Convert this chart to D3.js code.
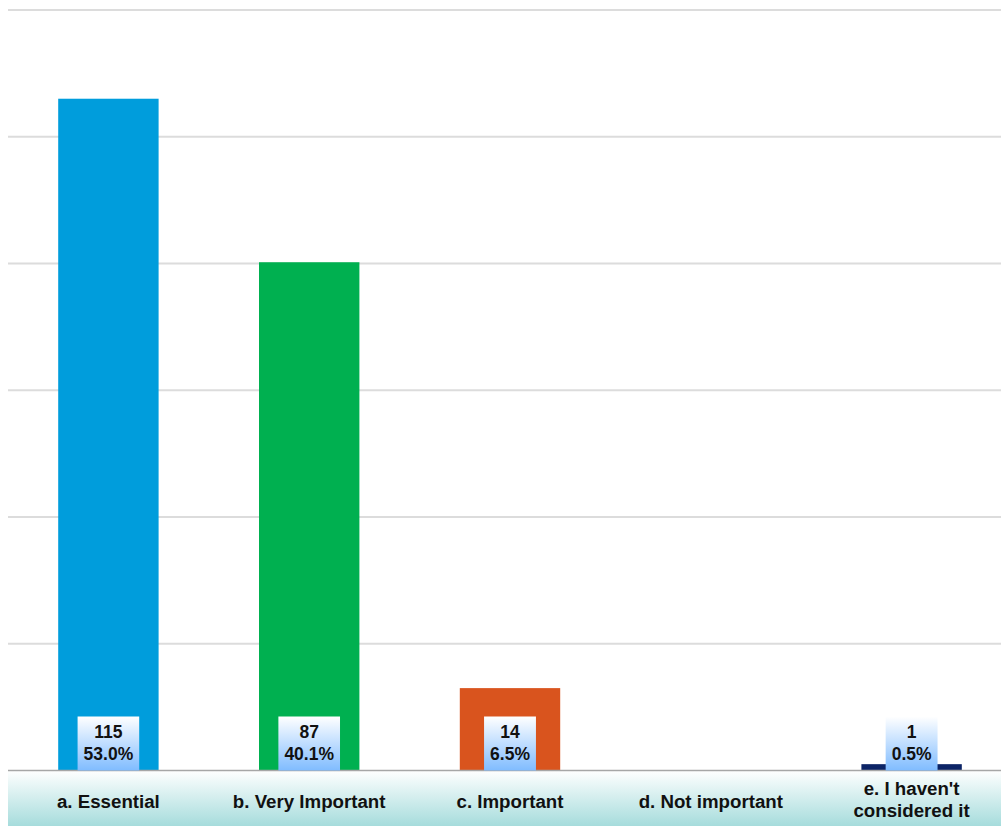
<!DOCTYPE html>
<html>
<head>
<meta charset="utf-8">
<script src="https://cdn.jsdelivr.net/npm/d3@7"></script>
<style>
  body { margin: 0; background: #fff; }
  svg { display: block; font-family: "Liberation Sans", Arial, sans-serif; }
</style>
</head>
<body>
<svg id="chart" width="1001" height="826"></svg>
<script>
// data
const categories = ["a. Essential", "b. Very Important", "c. Important", "d. Not important", "e. I haven't considered it"];
const categoryLines = [["a. Essential"], ["b. Very Important"], ["c. Important"], ["d. Not important"], ["e. I haven't", "considered it"]];
const counts = [115, 87, 14, 0, 1];
const percents = [53.0, 40.1, 6.5, 0, 0.5];
const barColors = ["#009ddc", "#00b050", "#d9541e", "#7f7f7f", "#0c2466"];
const gridTicks = [0, 10, 20, 30, 40, 50, 60];

const svg = d3.select("#chart");
const width = 1001, height = 826;
const left = 8, baseY = 770.5, topY = 10;

const data = categories.map((c, i) => ({
  cat: c, lines: categoryLines[i], count: counts[i], pct: percents[i], color: barColors[i]
}));

const x = d3.scaleBand()
  .domain(categories)
  .range([left, 1012])
  .paddingInner(0.5)
  .paddingOuter(0.25);

const y = d3.scaleLinear().domain([0, 60]).range([baseY, topY]);

const defs = svg.append("defs");
const bandGrad = defs.append("linearGradient")
  .attr("id", "bandGrad").attr("x1", 0).attr("y1", 0).attr("x2", 0).attr("y2", 1);
bandGrad.append("stop").attr("offset", "0%").attr("stop-color", "#ffffff");
bandGrad.append("stop").attr("offset", "100%").attr("stop-color", "#a6dcdc");

const boxGrad = defs.append("linearGradient")
  .attr("id", "boxGrad").attr("x1", 0).attr("y1", 0).attr("x2", 0).attr("y2", 1);
boxGrad.append("stop").attr("offset", "0%").attr("stop-color", "#ffffff");
boxGrad.append("stop").attr("offset", "100%").attr("stop-color", "#80bcff");

// gridlines
svg.append("g").attr("class", "grid")
  .selectAll("line")
  .data(gridTicks.filter(t => t > 0))
  .join("line")
  .attr("x1", left).attr("x2", width)
  .attr("y1", d => y(d)).attr("y2", d => y(d))
  .attr("stroke", "#dcdcdc")
  .attr("stroke-width", 2);

// category band below the axis
svg.append("rect")
  .attr("x", left).attr("y", baseY)
  .attr("width", width - left).attr("height", height - baseY)
  .attr("fill", "url(#bandGrad)");

// bars
svg.append("g").attr("class", "bars")
  .selectAll("rect")
  .data(data.filter(d => d.count > 0))
  .join("rect")
  .attr("x", d => x(d.cat))
  .attr("width", x.bandwidth())
  .attr("y", d => y(d.pct))
  .attr("height", d => y(0) - y(d.pct))
  .attr("fill", d => d.color);

// baseline
svg.append("line")
  .attr("x1", left).attr("x2", width)
  .attr("y1", baseY).attr("y2", baseY)
  .attr("stroke", "#a6a6a6")
  .attr("stroke-width", 1.5);

// value labels (count + percent) in gradient boxes
const labelG = svg.append("g").attr("class", "value-labels")
  .selectAll("g")
  .data(data.filter(d => d.count > 0))
  .join("g")
  .attr("transform", d => `translate(${x(d.cat) + x.bandwidth() / 2},0)`);

labelG.each(function(d) {
  const g = d3.select(this);
  const rect = g.append("rect").attr("fill", "url(#boxGrad)");
  const t1 = g.append("text")
    .attr("text-anchor", "middle")
    .attr("y", baseY - 33)
    .attr("font-size", 17.5).attr("font-weight", "bold").attr("fill", "#111")
    .text(d.count);
  const t2 = g.append("text")
    .attr("text-anchor", "middle")
    .attr("y", baseY - 11)
    .attr("font-size", 17.5).attr("font-weight", "bold").attr("fill", "#111")
    .text(d.pct.toFixed(1) + "%");
  const w = Math.max(t1.node().getComputedTextLength(), t2.node().getComputedTextLength()) + 12;
  rect.attr("x", -w / 2).attr("width", w)
    .attr("y", baseY - 54).attr("height", 54);
});

// category labels
svg.append("g").attr("class", "cat-labels")
  .selectAll("text")
  .data(data)
  .join("text")
  .attr("text-anchor", "middle")
  .attr("font-size", 18.7).attr("font-weight", "bold").attr("fill", "#111")
  .attr("x", d => x(d.cat) + x.bandwidth() / 2)
  .attr("y", d => d.lines.length > 1 ? 795 : 808)
  .selectAll("tspan")
  .data(d => d.lines.map((l, i) => ({ l, i, cx: x(d.cat) + x.bandwidth() / 2 })))
  .join("tspan")
  .attr("x", d => d.cx)
  .attr("dy", d => d.i === 0 ? 0 : 22)
  .text(d => d.l);
</script>
</body>
</html>
